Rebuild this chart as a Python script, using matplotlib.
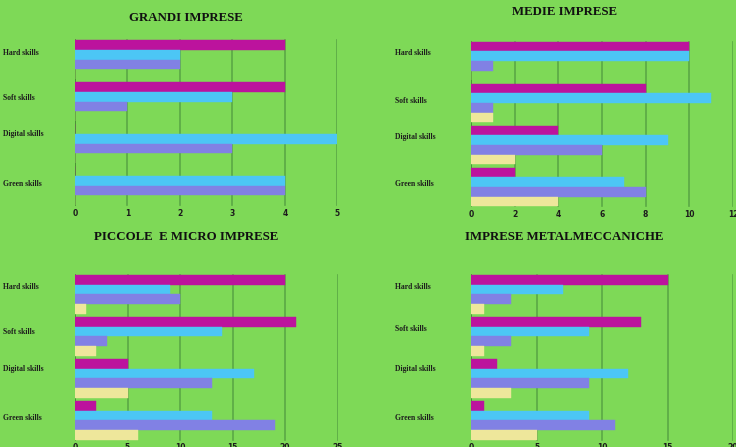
import matplotlib.pyplot as plt
import numpy as np

categories = ['Hard skills', 'Soft skills', 'Digital skills', 'Green skills']

# four series per chart: magenta, cyan, purple, yellow
grandi = [[4, 4, 0, 0], [2, 3, 5, 4], [2, 1, 3, 4], [0, 0, 0, 0]]
medie = [[10, 8, 4, 2], [10, 11, 9, 7], [1, 1, 6, 8], [0, 1, 2, 4]]
piccole = [[20, 21, 5, 2], [9, 14, 17, 13], [10, 3, 13, 19], [1, 2, 5, 6]]
metal = [[15, 13, 2, 1], [7, 9, 12, 9], [3, 3, 9, 11], [1, 1, 3, 5]]

grandi_ticks = [0, 1, 2, 3, 4, 5]
medie_ticks = [0, 2, 4, 6, 8, 10, 12]
piccole_ticks = [0, 5, 10, 15, 20, 25]
metal_ticks = [0, 5, 10, 15, 20]

BG = '#7ED957'
COLORS = ['#BC139D', '#4CC6F5', '#8181E4', '#EEE79B']
GRID = '#5BA845'
W, H = 736, 447

fig = plt.figure(figsize=(W / 100, H / 100), dpi=100, facecolor=BG)


def px_axes(x0, y0, x1, y1):
    return fig.add_axes([x0 / W, 1 - y1 / H, (x1 - x0) / W, (y1 - y0) / H])


def draw_panel(rect, data, ticks, title, title_xy, label_x, label_ys):
    ax = px_axes(*rect)
    ax.set_facecolor(BG)
    y = np.arange(len(categories))
    h = 0.23
    for k, vals in enumerate(data):
        ax.barh(y + (k - 1.5) * h, vals, height=h, color=COLORS[k],
                edgecolor=COLORS[k], linewidth=0.3, zorder=3)
    ax.set_xlim(ticks[0], ticks[-1])
    ax.set_ylim(3.5, -0.5)
    ax.set_xticks(ticks)
    ax.set_yticks([])
    for t in ticks:
        ax.axvline(t, ymin=0.01, ymax=0.99, color=GRID if t else '#3E8A2C',
                   lw=1.2, zorder=1)
    for s in ax.spines.values():
        s.set_visible(False)
    ax.tick_params(axis='x', length=0, pad=1.5, labelsize=5.5, labelcolor='#1c1c1c')
    for lab in ax.get_xticklabels():
        lab.set_fontweight('bold')
        lab.set_family('DejaVu Sans')
    fig.text(title_xy[0] / W, 1 - title_xy[1] / H, title, ha='center', va='center',
             family='Liberation Serif', fontweight='bold', fontsize=9.3, color='#111111')
    for cat, ly in zip(categories, label_ys):
        fig.text(label_x / W, 1 - ly / H, cat, ha='left', va='center',
                 family='Liberation Serif', fontweight='bold', fontsize=5.5, color='#1c1c1c')


draw_panel((75, 38.6, 337.3, 206.6), grandi, grandi_ticks, 'GRANDI IMPRESE',
           (186, 18.3), 3, [53.3, 98.3, 134.3, 184])
draw_panel((471, 40, 733, 208), medie, medie_ticks, 'MEDIE IMPRESE',
           (564, 11.7), 395, [53.3, 101.3, 137.3, 184.3])
draw_panel((75, 273.3, 337.5, 441.3), piccole, piccole_ticks, 'PICCOLE  E MICRO IMPRESE',
           (186, 237.3), 3, [287.3, 332.3, 369.3, 418.3])
draw_panel((471.3, 273.3, 733, 441.3), metal, metal_ticks, 'IMPRESE METALMECCANICHE',
           (564, 237.3), 395, [287.3, 329.3, 369.3, 418.3])

fig.savefig('out.png', dpi=100, facecolor=BG)
